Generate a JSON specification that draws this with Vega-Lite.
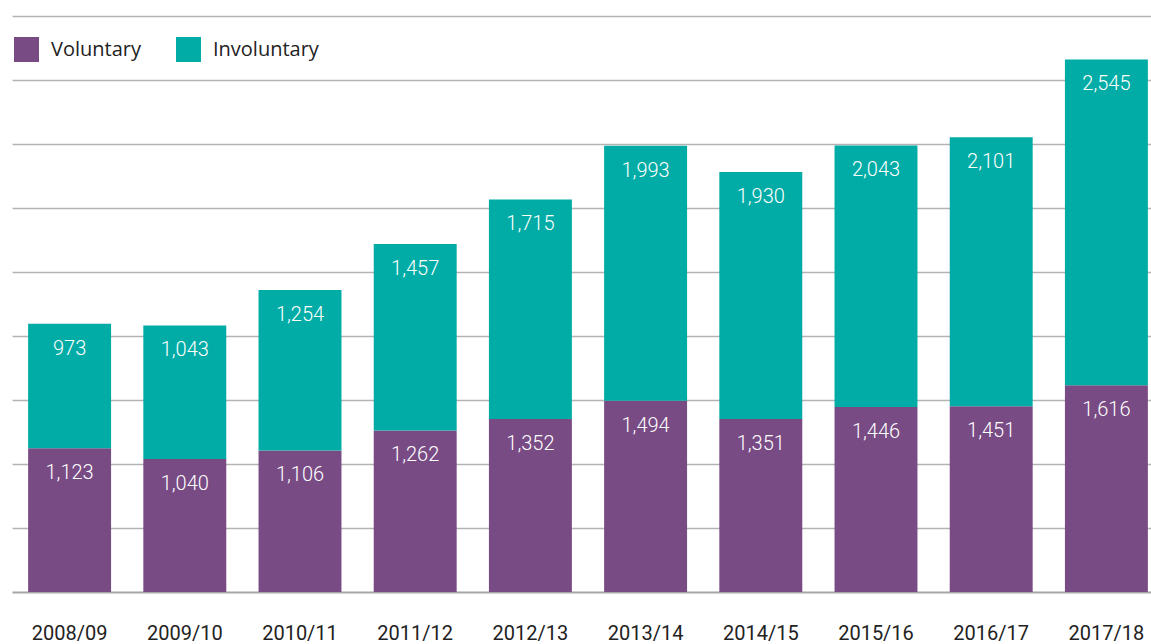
{
  "$schema": "https://vega.github.io/schema/vega-lite/v6.json",
  "width": 1152,
  "height": 576,
  "autosize": {"type": "none"},
  "padding": {"left": 12, "top": 16, "right": 0, "bottom": 52},
  "background": "white",
  "config": {
    "view": {"stroke": null},
    "font": "Roboto"
  },
  "data": {
    "values": [
      {"year": "2008/09", "type": "Voluntary", "value": 1123, "ord": 1},
      {"year": "2008/09", "type": "Involuntary", "value": 973, "ord": 2},
      {"year": "2009/10", "type": "Voluntary", "value": 1040, "ord": 1},
      {"year": "2009/10", "type": "Involuntary", "value": 1043, "ord": 2},
      {"year": "2010/11", "type": "Voluntary", "value": 1106, "ord": 1},
      {"year": "2010/11", "type": "Involuntary", "value": 1254, "ord": 2},
      {"year": "2011/12", "type": "Voluntary", "value": 1262, "ord": 1},
      {"year": "2011/12", "type": "Involuntary", "value": 1457, "ord": 2},
      {"year": "2012/13", "type": "Voluntary", "value": 1352, "ord": 1},
      {"year": "2012/13", "type": "Involuntary", "value": 1715, "ord": 2},
      {"year": "2013/14", "type": "Voluntary", "value": 1494, "ord": 1},
      {"year": "2013/14", "type": "Involuntary", "value": 1993, "ord": 2},
      {"year": "2014/15", "type": "Voluntary", "value": 1351, "ord": 1},
      {"year": "2014/15", "type": "Involuntary", "value": 1930, "ord": 2},
      {"year": "2015/16", "type": "Voluntary", "value": 1446, "ord": 1},
      {"year": "2015/16", "type": "Involuntary", "value": 2043, "ord": 2},
      {"year": "2016/17", "type": "Voluntary", "value": 1451, "ord": 1},
      {"year": "2016/17", "type": "Involuntary", "value": 2101, "ord": 2},
      {"year": "2017/18", "type": "Voluntary", "value": 1616, "ord": 1},
      {"year": "2017/18", "type": "Involuntary", "value": 2545, "ord": 2}
    ]
  },
  "encoding": {
    "x": {
      "field": "year",
      "type": "nominal",
      "scale": {"paddingInner": 0.28, "paddingOuter": 0.14},
      "axis": {
        "title": null,
        "labelAngle": 0,
        "labelFont": "Roboto",
        "labelFontSize": 20,
        "labelColor": "#222222",
        "labelPadding": 31,
        "ticks": false,
        "domainColor": "#a6a6a6",
        "domainWidth": 2
      }
    },
    "y": {
      "field": "value",
      "type": "quantitative",
      "stack": "zero",
      "scale": {"domain": [0, 4500], "nice": false},
      "axis": {
        "title": null,
        "labels": false,
        "ticks": false,
        "domain": false,
        "values": [500, 1000, 1500, 2000, 2500, 3000, 3500, 4000, 4500],
        "gridColor": "#b3b3b3",
        "gridWidth": 1.5
      }
    },
    "order": {"field": "ord", "type": "quantitative"}
  },
  "layer": [
    {
      "mark": {"type": "bar"},
      "encoding": {
        "color": {
          "field": "type",
          "type": "nominal",
          "scale": {"domain": ["Voluntary", "Involuntary"], "range": ["#784b84", "#00aca5"]},
          "legend": {
            "title": null,
            "orient": "none",
            "legendX": 2,
            "legendY": 21,
            "direction": "horizontal",
            "symbolType": "square",
            "symbolSize": 625,
            "symbolStrokeWidth": 0,
            "symbolOpacity": 1,
            "labelFont": "Open Sans",
            "labelFontSize": 20,
            "labelColor": "#222222",
            "labelOffset": 12,
            "columnPadding": 35,
            "padding": 0
          }
        }
      }
    },
    {
      "mark": {"type": "text", "color": "white", "fontSize": 20, "font": "Roboto", "fontWeight": 300, "baseline": "middle", "dy": 25},
      "encoding": {
        "text": {"field": "value", "type": "quantitative", "format": ","}
      }
    }
  ]
}
